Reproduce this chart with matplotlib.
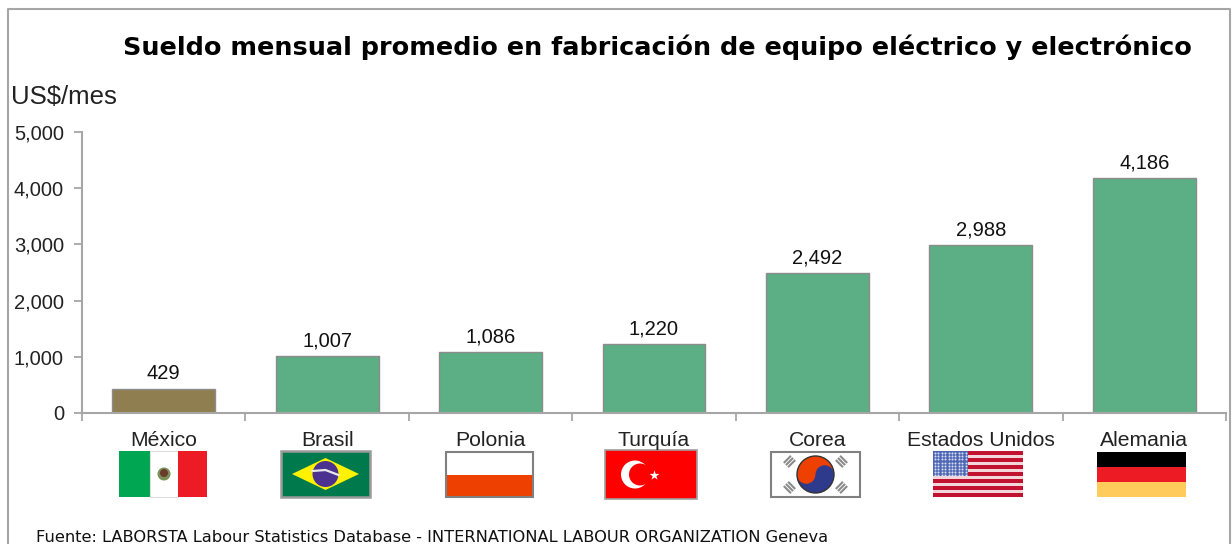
import numpy as np
import matplotlib
matplotlib.use("Agg")
import matplotlib.pyplot as plt
from matplotlib.patches import Rectangle, Circle, Polygon, Wedge

# ================= DATA =================
PAISES = ["México", "Brasil", "Polonia", "Turquía", "Corea", "Estados Unidos", "Alemania"]
SUELDOS = [429, 1007, 1086, 1220, 2492, 2988, 4186]
Y_TICKS = [0, 1000, 2000, 3000, 4000, 5000]

TITULO = "Sueldo mensual promedio en fabricación de equipo eléctrico y electrónico"
UNIDAD = "US$/mes"
FUENTE = "Fuente: LABORSTA Labour Statistics Database - INTERNATIONAL LABOUR ORGANIZATION Geneva"

# ================= CONFIG =================
W, H = 1232, 544
VERDE = "#5CAE84"
CAFE = "#8F7F50"
GRIS = "#A6A6A6"
plt.rcParams["font.family"] = ["Liberation Sans", "DejaVu Sans"]

fig = plt.figure(figsize=(W / 100, H / 100), dpi=100, facecolor="white")

# pixel overlay for frame, texts and flags
ov = fig.add_axes([0, 0, 1, 1], zorder=3)
ov.set_xlim(0, W)
ov.set_ylim(H, 0)
ov.axis("off")
ov.patch.set_alpha(0)

# main axes, x 82-1226 px, y 132-413 px
ax = fig.add_axes([82 / W, 1 - 413 / H, (1226 - 82) / W, (413 - 132) / H])
x = np.arange(len(PAISES))
colores = [CAFE] + [VERDE] * (len(PAISES) - 1)
ax.bar(x, SUELDOS, width=0.63, color=colores, edgecolor="#8C8C8C", linewidth=1)
ax.set_xlim(-0.5, len(PAISES) - 0.5)
ax.set_ylim(0, 5000)
ax.set_yticks(Y_TICKS)
ax.set_yticklabels([f"{v:,}" for v in Y_TICKS], fontsize=14.5, color="#222222")
ax.set_xticks(np.arange(len(PAISES) + 1) - 0.5)
ax.set_xticklabels([])
ax.tick_params(axis="both", length=6, width=1.3, color=GRIS, direction="out", pad=7)
for s in ["top", "right"]:
    ax.spines[s].set_visible(False)
for s in ["left", "bottom"]:
    ax.spines[s].set_color(GRIS)
    ax.spines[s].set_linewidth(1.5)
for xi, v in zip(x, SUELDOS):
    ax.annotate(f"{v:,}", (xi, v), xytext=(0, 4), textcoords="offset points", ha="center",
                va="bottom", fontsize=14.5, color="#111111")

# frame
ov.plot([8, 8, 1230, 1230], [H, 9, 9, H], color=GRIS, lw=1.5, clip_on=False)

# texts
ov.text(123, 47, TITULO, fontsize=18.35, fontweight="bold", family="DejaVu Sans", va="center", ha="left", color="black")
ov.text(11, 97, UNIDAD, fontsize=18.5, va="center", ha="left", color="#222222")
ov.text(36, 538, FUENTE, fontsize=11.7, va="center", ha="left", color="#111111",
        family="DejaVu Sans")
for xi, p in zip(x, PAISES):
    cx = 82 + (xi + 0.5) * (1226 - 82) / len(PAISES)
    ov.text(cx, 440, p, fontsize=15.2, ha="center", va="center", color="#222222")


def rect(x0, y0, x1, y1, c, **kw):
    ov.add_patch(Rectangle((x0, y0), x1 - x0, y1 - y0, facecolor=c, edgecolor=kw.pop("ec", "none"), **kw))


def flag_mexico(x0, y0, x1, y1):
    rect(x0, y0, x0 + 31, y1, "#00A651")
    rect(x0 + 31, y0, x0 + 59, y1, "white", ec="#DDDDDD", lw=0.8)
    rect(x0 + 59, y0, x1, y1, "#ED1C24")
    ov.add_patch(Circle(((x0 + 45), (y0 + y1) / 2), 6.5, fc="#7A8F5A", ec="none"))
    ov.add_patch(Circle(((x0 + 45), (y0 + y1) / 2 - 1), 4, fc="#6A3A2A", ec="none"))


def flag_brasil(x0, y0, x1, y1):
    rect(x0, y0, x1, y1, "#007A4D", ec="#9A9A9A", lw=1.8)
    cx, cy = (x0 + x1) / 2, (y0 + y1) / 2
    ov.add_patch(Polygon([(x0 + 11, cy), (cx, y0 + 7), (x1 - 11, cy), (cx, y1 - 7)], fc="#FFF200", ec="none"))
    ov.add_patch(Circle((cx, cy), 13, fc="#4B3291", ec="none"))
    ov.plot([cx - 13, cx, cx + 13], [cy - 3, cy - 4, cy + 1], color="#E8E8E8", lw=1.6)


def flag_polonia(x0, y0, x1, y1):
    m = (y0 + y1) / 2
    rect(x0, y0, x1, m, "white")
    rect(x0, m, x1, y1, "#EE4000")
    rect(x0, y0, x1, y1, "none", ec="#808080", lw=1.5)


def flag_turquia(x0, y0, x1, y1):
    rect(x0, y0, x1, y1, "#FF0000", ec="#A0A0A0", lw=1.2)
    cy = (y0 + y1) / 2
    ov.add_patch(Circle((x0 + 30, cy), 14, fc="white", ec="none"))
    ov.add_patch(Circle((x0 + 35, cy), 11, fc="#FF0000", ec="none"))
    ov.scatter([x0 + 49], [cy], marker="*", s=55, color="white", linewidths=0, zorder=4)


def flag_corea(x0, y0, x1, y1):
    rect(x0, y0, x1, y1, "white", ec="#808080", lw=1.5)
    cx, cy = (x0 + x1) / 2, (y0 + y1) / 2
    ov.add_patch(Wedge((cx, cy), 18.5, 0, 180, fc="#2E3A8C", ec="none"))
    ov.add_patch(Wedge((cx, cy), 18.5, 180, 360, fc="#EE4000", ec="none"))
    ov.add_patch(Circle((cx - 9.25, cy), 9.25, fc="#EE4000", ec="none"))
    ov.add_patch(Circle((cx + 9.25, cy), 9.25, fc="#2E3A8C", ec="none"))
    ov.add_patch(Circle((cx, cy), 18.5, fc="none", ec="#333333", lw=1))
    for dx, dy, ang in [(-26, -13, -45), (26, -13, 45), (-26, 13, 45), (26, 13, -45)]:
        t = np.radians(ang)
        for k in [-3, 0, 3]:
            px, py = cx + dx + k * np.cos(t + np.pi / 2), cy + dy + k * np.sin(t + np.pi / 2)
            ov.plot([px - 4 * np.cos(t), px + 4 * np.cos(t)], [py - 4 * np.sin(t), py + 4 * np.sin(t)],
                    color="#8A8A8A", lw=1.5)


def flag_usa(x0, y0, x1, y1):
    alto = (y1 - y0) / 13
    rect(x0, y0, x1, y1, "#F3D6DC")
    for i in range(0, 13, 2):
        rect(x0, y0 + i * alto, x1, y0 + (i + 1) * alto, "#C1122F")
    rect(x0, y0, x0 + 35, y0 + 7 * alto, "#4D66B5")
    gx, gy = np.meshgrid(np.arange(x0 + 2, x0 + 35, 3.4), np.arange(y0 + 2, y0 + 7 * alto, 3.2))
    ov.scatter(gx.ravel(), gy.ravel(), s=2.2, color="#D8DDF0", linewidths=0, zorder=4)


def flag_alemania(x0, y0, x1, y1):
    alto = (y1 - y0) / 3
    for i, c in enumerate(["black", "#ED1C24", "#FFCC5C"]):
        rect(x0, y0 + i * alto, x1, y0 + (i + 1) * alto, c)


flag_mexico(119, 451, 207, 497)
flag_brasil(281, 451, 370, 497)
flag_polonia(446, 452, 533, 497)
flag_turquia(605, 450, 697, 499)
flag_corea(771, 452, 860, 497)
flag_usa(933, 451, 1023, 497)
flag_alemania(1097, 452, 1186, 497)

fig.savefig("out.png", dpi=100)
